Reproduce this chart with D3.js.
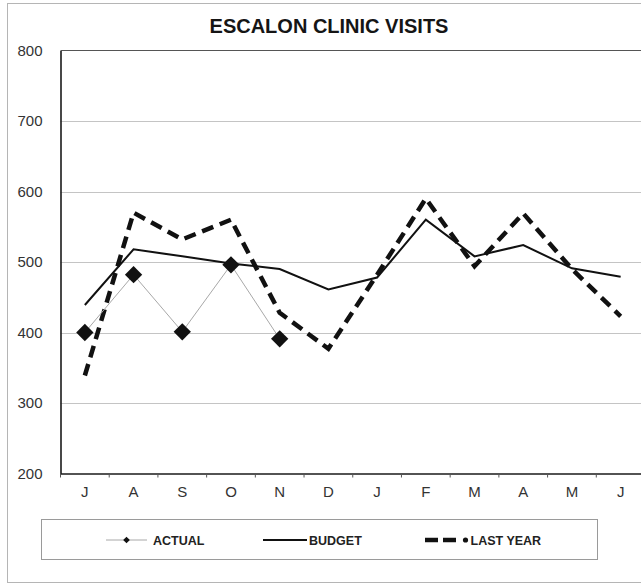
<!DOCTYPE html>
<html>
<head>
<meta charset="utf-8">
<script src="https://cdn.jsdelivr.net/npm/d3@7"></script>
<style>
  html, body { margin: 0; padding: 0; background: #fff; }
  svg { display: block; font-family: "Liberation Sans", Arial, Helvetica, sans-serif; }
</style>
</head>
<body>
<svg id="chart" width="641" height="585"></svg>
<script>
// Fiscal-year months, July through June
const months = ["J", "A", "S", "O", "N", "D", "J", "F", "M", "A", "M", "J"];
// Visits recorded so far this year (July–November)
const actual = [400, 482, 401, 496, 391];
const budget = [439, 518, 508, 498, 490, 461, 478, 560, 508, 524, 491, 479];
const lastYear = [339, 570, 532, 560, 428, 377, 482, 590, 494, 569, 490, 423];
const yTicks = [200, 300, 400, 500, 600, 700, 800];

const svg = d3.select("#chart");

// Page frame
svg.append("rect")
  .attr("x", 7.5).attr("y", 3.5)
  .attr("width", 700).attr("height", 579)
  .attr("fill", "#fff")
  .attr("stroke", "#b5b5b5").attr("stroke-width", 1);

const plot = { left: 60.5, top: 50.5, right: 645, bottom: 473.5 };

const x = d3.scaleBand()
  .domain(d3.range(months.length))
  .range([plot.left, plot.right])
  .paddingInner(0).paddingOuter(0);

const y = d3.scaleLinear()
  .domain([200, 800])
  .range([plot.bottom, plot.top]);

const cx = i => x(i) + x.bandwidth() / 2;

// Title
svg.append("text")
  .attr("x", 329).attr("y", 33)
  .attr("text-anchor", "middle")
  .attr("font-size", 20).attr("font-weight", "bold")
  .attr("fill", "#151515")
  .text("ESCALON CLINIC VISITS");

// Horizontal gridlines
svg.append("g")
  .selectAll("line")
  .data(yTicks.filter(v => v > 200 && v < 800))
  .join("line")
  .attr("x1", plot.left).attr("x2", plot.right)
  .attr("y1", d => Math.round(y(d)) + 0.5).attr("y2", d => Math.round(y(d)) + 0.5)
  .attr("stroke", "#c4c4c4").attr("stroke-width", 1);

// Plot area border (top edge)
svg.append("line")
  .attr("x1", plot.left).attr("x2", plot.right)
  .attr("y1", plot.top).attr("y2", plot.top)
  .attr("stroke", "#555").attr("stroke-width", 1.2);

// Y axis
const yAxis = svg.append("g")
  .attr("transform", `translate(${plot.left},0)`)
  .call(d3.axisLeft(y).tickValues(yTicks).tickSize(0).tickPadding(18));
yAxis.select(".domain").attr("stroke", "#1a1a1a").attr("stroke-width", 1.6);
yAxis.selectAll("text")
  .attr("font-size", 15).attr("fill", "#333")
  .attr("font-family", "\"Liberation Sans\", Arial, sans-serif");

// X axis with ticks on category boundaries
const xAxis = svg.append("g")
  .attr("transform", `translate(0,${plot.bottom})`)
  .call(d3.axisBottom(x).tickFormat(i => months[i]).tickSize(0).tickPadding(13));
xAxis.select(".domain").attr("stroke", "#1a1a1a").attr("stroke-width", 1.6);
xAxis.selectAll("text")
  .attr("font-size", 15).attr("fill", "#333")
  .attr("font-family", "\"Liberation Sans\", Arial, sans-serif");
xAxis.append("g")
  .selectAll("line")
  .data(d3.range(months.length + 1))
  .join("line")
  .attr("x1", i => i < months.length ? x(i) : plot.right)
  .attr("x2", i => i < months.length ? x(i) : plot.right)
  .attr("y1", 0).attr("y2", 4)
  .attr("stroke", "#555").attr("stroke-width", 1);

const line = d3.line()
  .x((d, i) => cx(i))
  .y(d => y(d));

// Last year: heavy dashed line
svg.append("path")
  .datum(lastYear)
  .attr("d", line)
  .attr("fill", "none")
  .attr("stroke", "#111")
  .attr("stroke-width", 4.5)
  .attr("stroke-dasharray", "12 7");

// Budget: solid line
svg.append("path")
  .datum(budget)
  .attr("d", line)
  .attr("fill", "none")
  .attr("stroke", "#111")
  .attr("stroke-width", 2);

// Actual: thin grey line with diamond markers
svg.append("path")
  .datum(actual)
  .attr("d", line)
  .attr("fill", "none")
  .attr("stroke", "#a8a8a8")
  .attr("stroke-width", 1);

svg.append("g")
  .selectAll("path")
  .data(actual)
  .join("path")
  .attr("transform", (d, i) => `translate(${cx(i)},${y(d)}) rotate(45)`)
  .attr("d", d3.symbol().type(d3.symbolSquare).size(150))
  .attr("fill", "#111");

// Legend
const legend = svg.append("g");
legend.append("rect")
  .attr("x", 41.5).attr("y", 519.5)
  .attr("width", 556).attr("height", 40)
  .attr("fill", "#fff")
  .attr("stroke", "#9a9a9a").attr("stroke-width", 1);

const ly = 540;
// ACTUAL
legend.append("line")
  .attr("x1", 106).attr("x2", 147).attr("y1", ly).attr("y2", ly)
  .attr("stroke", "#a8a8a8").attr("stroke-width", 1);
legend.append("path")
  .attr("transform", `translate(126.5,${ly}) rotate(45)`)
  .attr("d", d3.symbol().type(d3.symbolSquare).size(22))
  .attr("fill", "#111");
legend.append("text")
  .attr("x", 153).attr("y", ly + 4.5)
  .attr("font-size", 12.5).attr("font-weight", "bold").attr("fill", "#222")
  .text("ACTUAL");
// BUDGET
legend.append("line")
  .attr("x1", 263).attr("x2", 307).attr("y1", ly).attr("y2", ly)
  .attr("stroke", "#111").attr("stroke-width", 2);
legend.append("text")
  .attr("x", 309).attr("y", ly + 4.5)
  .attr("font-size", 12.5).attr("font-weight", "bold").attr("fill", "#222")
  .text("BUDGET");
// LAST YEAR: two dashes and a dot
legend.append("g")
  .selectAll("line")
  .data([[425, 438], [443, 456]])
  .join("line")
  .attr("x1", d => d[0]).attr("x2", d => d[1])
  .attr("y1", ly).attr("y2", ly)
  .attr("stroke", "#111").attr("stroke-width", 4.5)
  .attr("stroke-linecap", "butt");
legend.append("circle")
  .attr("cx", 465.5).attr("cy", ly).attr("r", 2.6)
  .attr("fill", "#111");
legend.append("text")
  .attr("x", 470.5).attr("y", ly + 4.5)
  .attr("font-size", 12.5).attr("font-weight", "bold").attr("fill", "#222")
  .text("LAST YEAR");
</script>
</body>
</html>
